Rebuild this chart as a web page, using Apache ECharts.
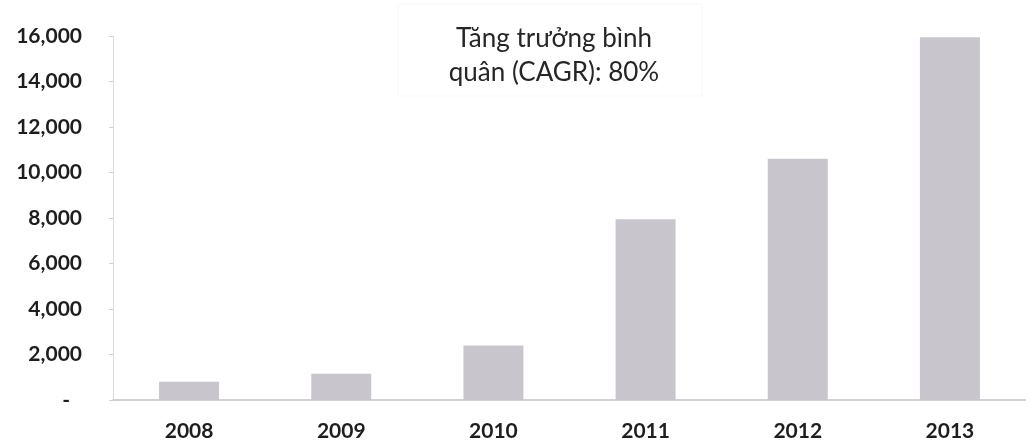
<!DOCTYPE html>
<html>
<head>
<meta charset="utf-8">
<script src="https://cdn.jsdelivr.net/npm/echarts@6/dist/echarts.min.js"></script>
<style>
html,body{margin:0;padding:0;background:#fff;}
#chart{width:1026px;height:444px;}
</style>
</head>
<body>
<div id="chart"></div>
<script>
const categories = ['2008', '2009', '2010', '2011', '2012', '2013'];
const values = [800, 1150, 2400, 7950, 10600, 15950];
const yTicks = { min: 0, max: 16000, interval: 2000 };
const noteLines = ['Tăng trưởng bình', 'quân (CAGR): 80%'];

const chart = echarts.init(document.getElementById('chart'), null, { renderer: 'canvas' });
chart.setOption({
  backgroundColor: '#ffffff',
  animation: false,
  grid: { left: 113, top: 36, height: 364, width: 923, containLabel: false },
  xAxis: {
    type: 'category',
    data: categories,
    axisLine: { show: true, lineStyle: { color: '#c4c4c4', width: 1.5 } },
    axisTick: { show: false },
    axisLabel: { margin: 21, color: '#1e1e1e', fontFamily: 'Lato', fontWeight: 'bold', fontSize: 21 }
  },
  yAxis: {
    type: 'value',
    min: yTicks.min, max: yTicks.max, interval: yTicks.interval,
    splitLine: { show: false },
    axisLine: { show: true, lineStyle: { color: '#dcdcdc', width: 1 } },
    axisTick: { show: true, length: 4, lineStyle: { color: '#d0d0d0' } },
    axisLabel: {
      margin: 31, color: '#1e1e1e', fontFamily: 'Lato', fontWeight: 'bold', fontSize: 21,
      formatter: function (v) { return v === 0 ? '{d|-}' : v.toLocaleString('en-US'); },
      rich: { d: { padding: [0, 12, 0, 0], fontFamily: 'Lato', fontWeight: 'bold', fontSize: 21, color: '#1e1e1e' } }
    }
  },
  series: [{
    type: 'bar',
    data: values,
    barWidth: 60,
    itemStyle: { color: '#c8c6cc' }
  }],
  graphic: [{
    type: 'rect',
    shape: { x: 398, y: 4, width: 304, height: 92 },
    style: { fill: '#ffffff', stroke: '#f7f7f7', lineWidth: 1 },
    z: 10
  }, {
    type: 'text',
    x: 554, y: 56,
    style: {
      text: noteLines.join('\n'),
      font: '26px Lato',
      fill: '#262626',
      align: 'center',
      verticalAlign: 'middle',
      lineHeight: 34
    },
    z: 11
  }]
});
</script>
</body>
</html>
